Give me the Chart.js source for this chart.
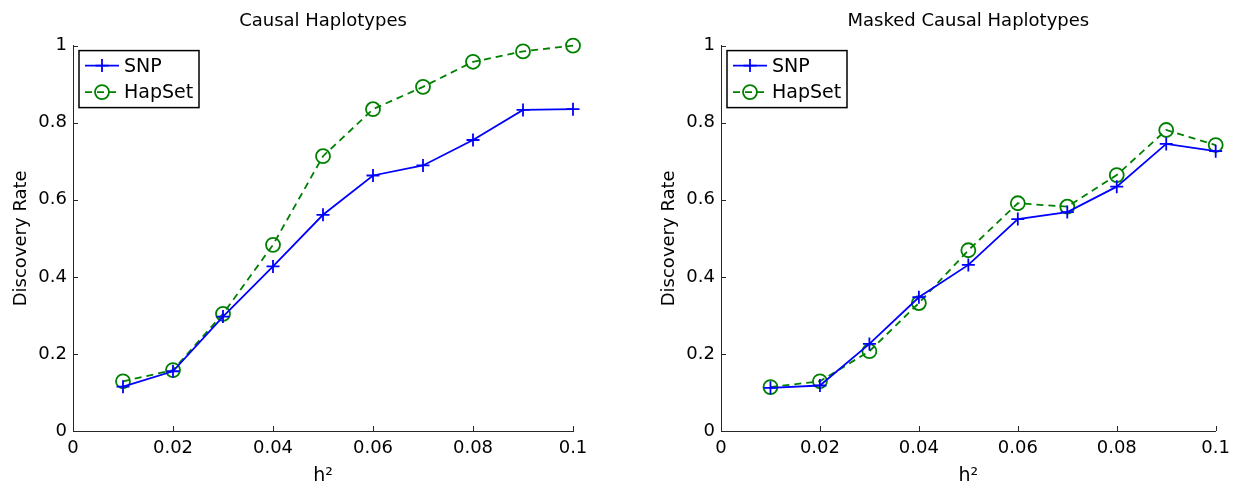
<!DOCTYPE html>
<html>
<head>
<meta charset="utf-8">
<script src="https://cdn.jsdelivr.net/npm/chart.js@4"></script>
<style>
  body { margin: 0; background: #fff; overflow: hidden; }
  canvas.panel { position: absolute; top: 0; }
</style>
</head>
<body>
<canvas id="causalChart" class="panel" width="620" height="492" style="left:0px"></canvas>
<canvas id="maskedChart" class="panel" width="589" height="492" style="left:648px"></canvas>
<script>
// heritability values on the x axis
const h2 = [0.01, 0.02, 0.03, 0.04, 0.05, 0.06, 0.07, 0.08, 0.09, 0.1];

// left panel
const causalSNP = [0.115, 0.155, 0.297, 0.427, 0.561, 0.663, 0.689, 0.755, 0.833, 0.835];
const causalHapSet = [0.129, 0.158, 0.304, 0.483, 0.713, 0.835, 0.893, 0.958, 0.985, 1.0];

// right panel
const maskedSNP = [0.112, 0.118, 0.226, 0.347, 0.431, 0.55, 0.568, 0.634, 0.745, 0.726];
const maskedHapSet = [0.114, 0.129, 0.207, 0.332, 0.469, 0.591, 0.582, 0.664, 0.781, 0.742];

const seriesNames = ["SNP", "HapSet"];
const panelTitles = ["Causal Haplotypes", "Masked Causal Haplotypes"];
const xTickLabels = ["0", "0.02", "0.04", "0.06", "0.08", "0.1"];
const yTickLabels = ["0", "0.2", "0.4", "0.6", "0.8", "1"];

const FONT = "'DejaVu Sans', 'Liberation Sans', Arial, sans-serif";
const axisColor = "#262626";
const blue = "#0000ff";
const green = "#008000";

// MATLAB style: ticks point into the plot, legend box in the upper left
const matlabAxes = {
  id: "matlabAxes",
  afterDatasetsDraw(chart) {
    const ctx = chart.ctx;
    const xs = chart.scales.x;
    const ys = chart.scales.y;
    const area = chart.chartArea;
    ctx.save();
    ctx.strokeStyle = axisColor;
    ctx.lineWidth = 1;
    xs.ticks.forEach((t) => {
      const px = Math.round(xs.getPixelForValue(t.value)) + 0.5;
      ctx.beginPath();
      ctx.moveTo(px, area.bottom);
      ctx.lineTo(px, area.bottom - 5);
      ctx.stroke();
    });
    ys.ticks.forEach((t) => {
      const py = Math.round(ys.getPixelForValue(t.value)) + 0.5;
      ctx.beginPath();
      ctx.moveTo(area.left, py);
      ctx.lineTo(area.left + 5, py);
      ctx.stroke();
    });
    ctx.restore();
  },
  afterDraw(chart) {
    const ctx = chart.ctx;
    const area = chart.chartArea;
    const x0 = area.left + 6;
    const y0 = area.top + 5;
    const w = 120;
    const h = 57;
    ctx.save();
    ctx.fillStyle = "#fff";
    ctx.fillRect(x0, y0, w, h);
    ctx.strokeStyle = "#000";
    ctx.lineWidth = 1.5;
    ctx.strokeRect(x0, y0, w, h);

    chart.data.datasets.forEach((ds, i) => {
      const ry = y0 + 15 + i * 26.5;
      const mx = x0 + 23;
      ctx.strokeStyle = ds.borderColor;
      ctx.lineWidth = ds.borderWidth;
      ctx.setLineDash(ds.borderDash || []);
      ctx.beginPath();
      ctx.moveTo(x0 + 6, ry);
      ctx.lineTo(x0 + 40, ry);
      ctx.stroke();
      ctx.setLineDash([]);
      ctx.lineWidth = ds.pointBorderWidth;
      ctx.beginPath();
      if (ds.pointStyle === "cross") {
        ctx.moveTo(mx - ds.pointRadius, ry);
        ctx.lineTo(mx + ds.pointRadius, ry);
        ctx.moveTo(mx, ry - ds.pointRadius);
        ctx.lineTo(mx, ry + ds.pointRadius);
      } else {
        ctx.arc(mx, ry, ds.pointRadius, 0, Math.PI * 2);
      }
      ctx.stroke();
      ctx.fillStyle = "#000";
      ctx.font = "19px " + FONT;
      ctx.textBaseline = "middle";
      ctx.textAlign = "left";
      ctx.fillText(ds.label, x0 + 45, ry + 1);
    });
    ctx.restore();
  },
};

function makeChart(canvasId, title, snp, hapset, rightPad) {
  const ctx = document.getElementById(canvasId).getContext("2d");
  return new Chart(ctx, {
    type: "line",
    data: {
      datasets: [
        {
          label: seriesNames[0],
          data: h2.map((x, i) => ({ x: x, y: snp[i] })),
          borderColor: blue,
          borderWidth: 1.8,
          pointStyle: "cross",
          pointRadius: 6.5,
          pointBorderColor: blue,
          pointBorderWidth: 1.8,
          pointBackgroundColor: "transparent",
          tension: 0,
          clip: false,
        },
        {
          label: seriesNames[1],
          data: h2.map((x, i) => ({ x: x, y: hapset[i] })),
          borderColor: green,
          borderWidth: 1.8,
          borderDash: [7, 5],
          pointStyle: "circle",
          pointRadius: 7,
          pointBorderColor: green,
          pointBorderWidth: 1.8,
          pointBackgroundColor: "transparent",
          tension: 0,
          clip: false,
        },
      ],
    },
    options: {
      responsive: false,
      animation: false,
      devicePixelRatio: 1,
      layout: { padding: { left: 0, right: rightPad, top: 0, bottom: 0 } },
      plugins: {
        legend: { display: false },
        tooltip: { enabled: false },
        title: {
          display: true,
          text: title,
          fullSize: false,
          color: "#000",
          font: { family: FONT, size: 18, weight: "normal", lineHeight: 1.2 },
          padding: { top: 11, bottom: 13 },
        },
      },
      scales: {
        x: {
          type: "linear",
          min: 0,
          max: 0.1,
          grid: { display: false, drawTicks: false },
          border: { display: true, color: axisColor, width: 1 },
          ticks: {
            stepSize: 0.02,
            padding: 7,
            maxRotation: 0,
            color: "#000",
            font: { family: FONT, size: 18 },
            callback: (v, i) => xTickLabels[i],
          },
          title: {
            display: true,
            text: "h²",
            color: "#000",
            font: { family: FONT, size: 19, lineHeight: 1.2 },
            padding: { top: 0, bottom: 5 },
          },
          afterFit: (scale) => { scale.height = 61; },
        },
        y: {
          min: 0,
          max: 1,
          grid: { display: false, drawTicks: false },
          border: { display: true, color: axisColor, width: 1 },
          ticks: {
            stepSize: 0.2,
            padding: 6,
            color: "#000",
            font: { family: FONT, size: 18 },
            callback: (v, i) => yTickLabels[i],
          },
          title: {
            display: true,
            text: "Discovery Rate",
            color: "#000",
            font: { family: FONT, size: 18, lineHeight: 1.2 },
            padding: { top: 11, bottom: 0 },
          },
          afterFit: (scale) => { scale.width = 73; },
        },
      },
    },
    plugins: [matlabAxes],
  });
}

makeChart("causalChart", panelTitles[0], causalSNP, causalHapSet, 47);
makeChart("maskedChart", panelTitles[1], maskedSNP, maskedHapSet, 14);
</script>
</body>
</html>
